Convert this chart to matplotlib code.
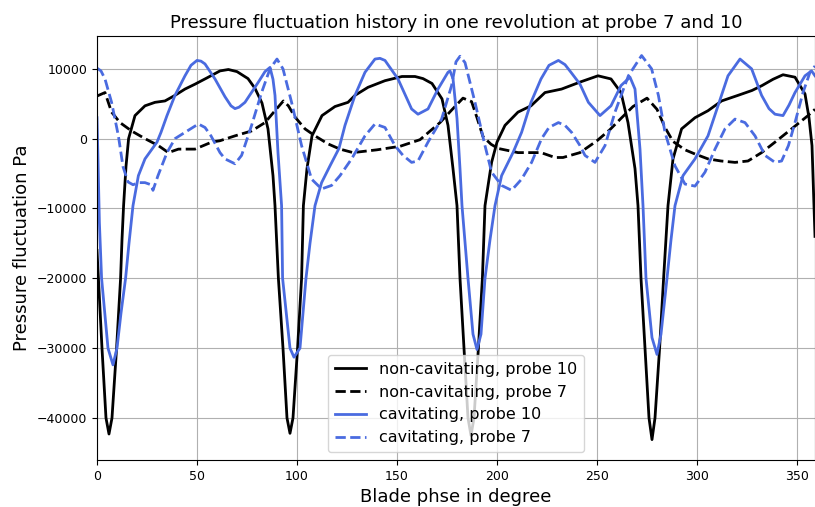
import matplotlib
matplotlib.use("Agg")
import matplotlib.pyplot as plt

# non-cavitating, probe 10 (black solid)
nc10_x = [0, 2.5, 4.5, 6, 7.5, 9.8, 11.8, 12.5, 13.3, 14.5, 15.8, 19, 24, 29, 34, 39, 44, 49,
          55, 61.5, 65.7, 70, 75.5, 79, 82.5, 85.5, 88, 89, 90.7, 93, 95, 96.5, 98, 100.3,
          102.3, 103.2, 105, 107.5, 112.5, 119, 125.5, 129, 135.5, 144, 152.5, 159, 163,
          167.5, 172.5, 175.5, 178, 180, 181.5, 183.5, 185.5, 187, 188.5, 190.7, 192.7, 194,
          197.3, 200, 204, 210.5, 217, 224, 232.3, 241.5, 250.5, 257, 262, 265.5, 269, 270.5,
          272, 274, 276, 277.5, 279, 281.3, 283.3, 285.5, 288, 292.3, 299, 305.5, 312.3,
          320.5, 327.5, 332.5, 338, 343, 349, 354, 356, 357.5, 359]
nc10_y = [-16000, -30000, -40000, -42300, -40000, -30000, -20000, -14500, -9600, -4000, 0,
          3300, 4700, 5200, 5400, 6200, 7100, 7800, 8700, 9700, 9900, 9600, 8600, 7200, 5100,
          1400, -5300, -9600, -20000, -30000, -40000, -42200, -40000, -30000, -20000, -9600,
          -4300, 400, 3300, 4600, 5200, 6200, 7350, 8300, 8900, 8900, 8600, 7900, 5700, 1900,
          -4300, -9600, -20000, -30000, -40000, -42500, -40000, -30000, -20000, -9600, -3400,
          -500, 1900, 3800, 4700, 6600, 7100, 8100, 9000, 8550, 6600, 2300, -4300, -9600,
          -20000, -30000, -40000, -43100, -40000, -30000, -20000, -9600, -2900, 1400, 3000,
          4000, 5400, 6200, 6900, 7600, 8500, 9150, 8800, 6400, 3000, -1000, -14000]

# non-cavitating, probe 7 (black dashed)
nc7_x = [0, 4, 7.3, 11.5, 17.3, 24, 30.7, 35.7, 40.7, 49, 57.3, 61.5, 69, 77.3, 84, 89, 93.2,
         95.7, 99, 104, 109, 115.5, 121.5, 128, 134, 140, 151.5, 161.5, 171.5, 178, 183, 187.3,
         190, 193, 197, 200.5, 210.5, 222, 229, 233, 241.5, 250, 256.5, 262, 268, 275, 280,
         284, 288, 294, 299, 305.5, 312, 319, 325.5, 332.3, 339, 347.3, 355.5, 359]
nc7_y = [6100, 6600, 3800, 2300, 1100, 0, -1000, -2000, -1500, -1500, -500, -300, 400, 1100,
         2300, 4000, 5400, 4700, 3100, 1400, 400, -750, -1500, -2000, -1800, -1600, -1100,
         -150, 2300, 4300, 5800, 5300, 3000, 300, -800, -1400, -2000, -2000, -2700, -2700,
         -2000, -300, 1300, 2900, 4600, 5800, 4200, 1600, -400, -1600, -2200, -2900, -3200,
         -3400, -3200, -2000, -500, 1400, 3300, 4200]

# cavitating, probe 10 (blue solid)
c10_x = [0, 0.5, 1.2, 2.3, 5.5, 8, 10, 12, 14.3, 16, 18, 20.7, 24, 30, 32, 35, 39, 44, 47,
         50, 52, 54, 59, 64, 67, 69, 71, 74, 80.7, 84, 86.5, 88, 89, 90.5, 92.3, 92.8, 96.5,
         98.5, 101.5, 104.5, 106.5, 109, 112.3, 116.5, 121, 124, 129, 134, 139, 141.5, 144,
         150.5, 157.3, 160.5, 165.5, 170.5, 175.5, 176.5, 178, 180, 181.5, 182.5, 185.5, 188,
         190, 192, 194, 196.5, 199, 202.3, 208, 212.3, 217, 222, 226, 230.7, 234, 237, 241.5,
         245.7, 251.5, 257, 262, 266.5, 269, 271.5, 273, 274.5, 277.5, 280, 282, 285, 287, 289,
         293, 299, 305.5, 310.5, 315.5, 321.5, 327.3, 332.3, 336, 339, 343, 346, 349, 354,
         357.3, 359]
c10_y = [3000, -3000, -12000, -20000, -30000, -32400, -30000, -25000, -20000, -15000, -9600,
         -5300, -2900, -500, 900, 3300, 6200, 9000, 10500, 11200, 11100, 10700, 8550, 6000,
         4700, 4300, 4500, 5200, 8100, 9600, 10200, 8500, 6200, -2000, -9600, -20000, -30000,
         -31300, -30000, -20000, -15000, -9600, -6300, -3900, -1400, 1900, 6200, 9500, 11400,
         11500, 11200, 8550, 4250, 3500, 4250, 7100, 9500, 9700, 8600, 2900, -4300, -9600,
         -20000, -28000, -30200, -28000, -20000, -14500, -9600, -5300, -2000, 900, 5200, 8550,
         10500, 11200, 10600, 9500, 7800, 5200, 3300, 4700, 7600, 8800, 7100, -1500, -9600,
         -20000, -28500, -30900, -28000, -20000, -14500, -9600, -5300, -2900, 400, 4700, 9000,
         11400, 10000, 6200, 4300, 3500, 3300, 4800, 6600, 9000, 9700, 9000]

# cavitating, probe 7 (blue dashed)
c7_x = [0, 2, 4, 7.3, 10.7, 13, 15.5, 18, 21, 24, 27, 28, 30.5, 35, 39, 44, 50.7, 54, 57,
        61.5, 64, 69, 72.3, 77.3, 82.3, 86.5, 90, 93, 97.3, 102.3, 107.3, 112.3, 117.3, 121.5,
        127.3, 134, 139, 144, 149, 153, 157.3, 160.5, 165.5, 172.3, 177.3, 179.5, 181.5, 184,
        189, 194, 197.3, 202.3, 207.3, 212.3, 217.3, 222.3, 226, 230.7, 234, 237.3, 241.5,
        244, 249, 254, 259, 265.7, 272.3, 277.3, 280.7, 284, 289, 294, 299, 304, 309, 314,
        319, 324, 329, 334, 339, 342.3, 345.7, 349, 353, 356.5, 359]
c7_y = [10100, 9700, 8550, 5200, 400, -4000, -6200, -6600, -6300, -6300, -6600, -7400, -5300,
        -2000, 0, 900, 2100, 1600, 400, -2000, -2900, -3600, -2400, 1900, 6600, 10000, 11400,
        10000, 5200, -1000, -5800, -7200, -6700, -5300, -2900, 400, 2100, 1600, -1000, -2400,
        -3400, -3200, -500, 2800, 7600, 11000, 11800, 10900, 5200, -1000, -4800, -6700, -7400,
        -5800, -3400, 0, 1600, 2300, 1900, 900, -1000, -2400, -3400, -1000, 3800, 9000, 11900,
        10000, 6200, 900, -3900, -6500, -6800, -4800, -1500, 1400, 2800, 2300, 400, -2400,
        -3400, -3200, -1000, 2300, 6600, 9500, 10400]

blue = "#4a6be0"

fig = plt.figure(figsize=(8.15, 5.07), dpi=100)
ax = fig.add_axes([0.119, 0.093, 0.881, 0.836])

ax.plot(nc10_x, nc10_y, color="black", lw=2, label="non-cavitating, probe 10")
ax.plot(nc7_x, nc7_y, color="black", lw=2, ls="--", label="non-cavitating, probe 7")
ax.plot(c10_x, c10_y, color=blue, lw=2, label="cavitating, probe 10")
ax.plot(c7_x, c7_y, color=blue, lw=2, ls="--", label="cavitating, probe 7")

ax.set_xlim(0, 359)
ax.set_ylim(-46000, 14700)
ax.set_xticks([0, 50, 100, 150, 200, 250, 300, 350])
ax.set_yticks([-40000, -30000, -20000, -10000, 0, 10000])
ax.tick_params(labelsize=9)
ax.grid(True, color="#b0b0b0", lw=0.8)

ax.set_title("Pressure fluctuation history in one revolution at probe 7 and 10", fontsize=13)
ax.set_xlabel("Blade phse in degree", fontsize=13)
ax.set_ylabel("Pressure fluctuation Pa", fontsize=13)
ax.legend(loc="lower center", fontsize=11.5)

fig.savefig("out.png", dpi=100)
